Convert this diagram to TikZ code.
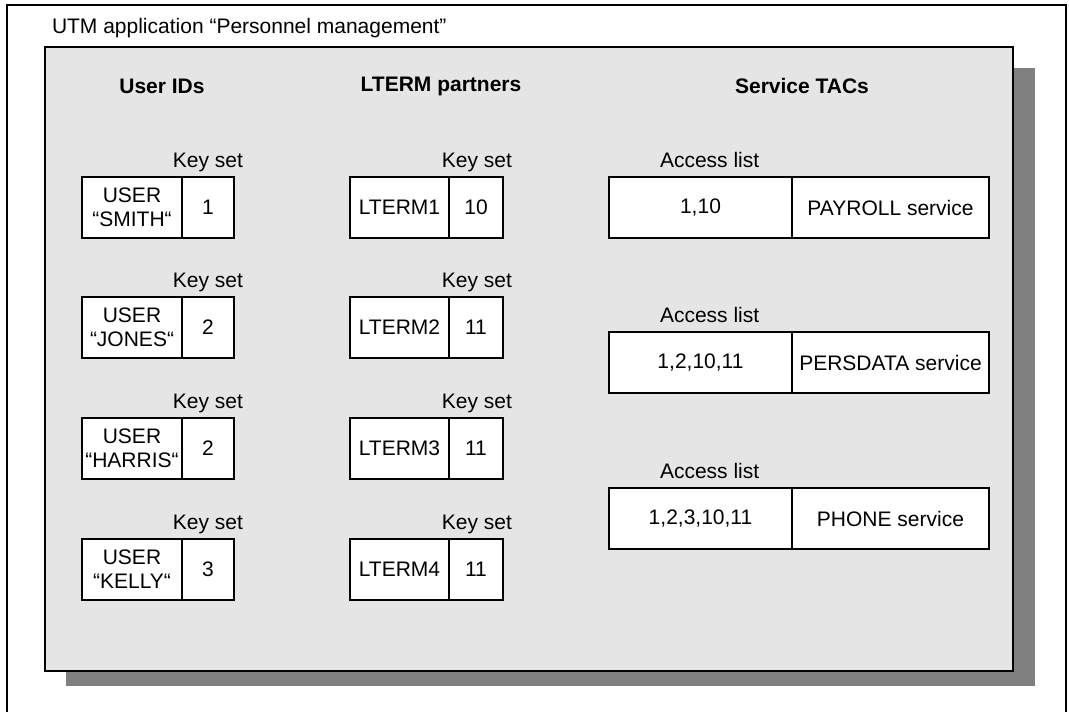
\documentclass[tikz,border=0pt]{standalone}
\usepackage{fontspec}
\setmainfont{Liberation Sans}
\usetikzlibrary{positioning}
\definecolor{panelgray}{RGB}{229,229,229}
\definecolor{shadowgray}{RGB}{128,128,128}

\begin{document}
\begin{tikzpicture}[
      x=1pt, y=-1pt,
      every node/.style={font=\fontsize{21}{24}\selectfont, inner sep=0pt, outer sep=0pt},
      cell/.style={draw, fill=white, line width=1.3pt, minimum height=61pt, align=center},
      head/.style={font=\fontsize{21}{24}\selectfont\bfseries},
      keylbl/.style={anchor=base east},
      acclbl/.style={anchor=base west},
      frame/.style={line width=1.6pt},
      panel/.style={draw, fill=panelgray, line width=1.6pt}
  ]
      \useasboundingbox (0,0) rectangle (1069,712);

      % Frame, shadow and panel
      \draw[frame] (7,713) -- (7,5) -- (1066,5) -- (1066,713);
      \node[anchor=base west] (title) at (52,33) {UTM application “Personnel management”};
      \fill[shadowgray] (66,68) rectangle (1035,686);
      \draw[panel] (45,47) rectangle (1013,671);

      % Headings
      \node[head] (huser) at (162,86) {User IDs};
      \node[head] (hlterm) at (441,86) {LTERM partners};
      \node[head] (hserv) at (802,86) {Service TACs};

      % User IDs
      \node[cell, anchor=north west, minimum width=100pt] (u1) at (82,177) {USER\\“SMITH“};
      \node[cell, minimum width=52pt, right=0pt of u1] (u1k) {1};
      \node[keylbl] at ([shift={(9pt,10pt)}]u1k.north east) {Key set};
      \node[cell, anchor=north west, minimum width=100pt] (u2) at (82,297) {USER\\“JONES“};
      \node[cell, minimum width=52pt, right=0pt of u2] (u2k) {2};
      \node[keylbl] at ([shift={(9pt,10pt)}]u2k.north east) {Key set};
      \node[cell, anchor=north west, minimum width=100pt] (u3) at (82,418) {USER\\“HARRIS“};
      \node[cell, minimum width=52pt, right=0pt of u3] (u3k) {2};
      \node[keylbl] at ([shift={(9pt,10pt)}]u3k.north east) {Key set};
      \node[cell, anchor=north west, minimum width=100pt] (u4) at (82,539) {USER\\“KELLY“};
      \node[cell, minimum width=52pt, right=0pt of u4] (u4k) {3};
      \node[keylbl] at ([shift={(9pt,10pt)}]u4k.north east) {Key set};

      % LTERM partners
      \node[cell, anchor=north west, minimum width=99pt] (lt1) at (350,177) {LTERM1};
      \node[cell, minimum width=54pt, right=0pt of lt1] (lt1k) {10};
      \node[keylbl] at ([shift={(9pt,10pt)}]lt1k.north east) {Key set};
      \node[cell, anchor=north west, minimum width=99pt] (lt2) at (350,297) {LTERM2};
      \node[cell, minimum width=54pt, right=0pt of lt2] (lt2k) {11};
      \node[keylbl] at ([shift={(9pt,10pt)}]lt2k.north east) {Key set};
      \node[cell, anchor=north west, minimum width=99pt] (lt3) at (350,418) {LTERM3};
      \node[cell, minimum width=54pt, right=0pt of lt3] (lt3k) {11};
      \node[keylbl] at ([shift={(9pt,10pt)}]lt3k.north east) {Key set};
      \node[cell, anchor=north west, minimum width=99pt] (lt4) at (350,539) {LTERM4};
      \node[cell, minimum width=54pt, right=0pt of lt4] (lt4k) {11};
      \node[keylbl] at ([shift={(9pt,10pt)}]lt4k.north east) {Key set};

      % Service TACs
      \node[cell, anchor=north west, minimum width=183pt] (s1) at (609,177) {1,10};
      \node[cell, minimum width=197pt, right=0pt of s1] (s1t) {PAYROLL service};
      \node[acclbl] at ([shift={(51pt,10pt)}]s1.north west) {Access list};
      \node[cell, anchor=north west, minimum width=183pt] (s2) at (609,332) {1,2,10,11};
      \node[cell, minimum width=197pt, right=0pt of s2] (s2t) {PERSDATA service};
      \node[acclbl] at ([shift={(51pt,10pt)}]s2.north west) {Access list};
      \node[cell, anchor=north west, minimum width=183pt] (s3) at (609,488) {1,2,3,10,11};
      \node[cell, minimum width=197pt, right=0pt of s3] (s3t) {PHONE service};
      \node[acclbl] at ([shift={(51pt,10pt)}]s3.north west) {Access list};
  \end{tikzpicture}
\end{document}
